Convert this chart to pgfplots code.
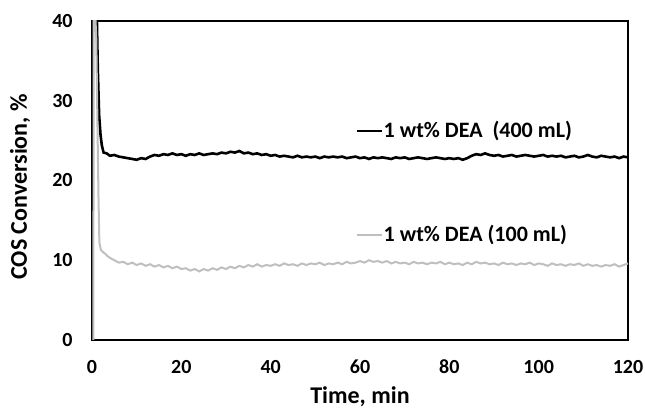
\documentclass[border=0pt]{standalone}
\usepackage{fontspec}
\setmainfont{Carlito}
\usepackage{pgfplots}
\pgfplotsset{compat=1.18}
\usepackage{pgfplotstable}
\usetikzlibrary{calc}
\definecolor{lightline}{HTML}{BFBFBF}

% 1 wt% DEA, 400 mL
\pgfplotstableread{
t y
1.0 45
1.1 40
1.3 34
1.6 28.2
1.9 25.8
2.2 24.4
2.6 23.5
3.3 23.4
4 23.1
5 23.2
6 23.0
7 22.9
8 22.8
9 22.7
10 22.6
11 22.8
12 22.7
13 23.0
14 23.2
15 23.1
16 23.3
17 23.2
18 23.4
19 23.2
20 23.3
21 23.1
22 23.3
23 23.2
24 23.4
25 23.2
26 23.3
27 23.4
28 23.3
29 23.5
30 23.4
31 23.6
32 23.5
33 23.7
34 23.4
35 23.5
36 23.3
37 23.4
38 23.2
39 23.3
40 23.1
41 23.2
42 23.0
43 23.1
44 23.0
45 22.9
46 23.1
47 22.9
48 23.0
49 22.9
50 23.0
51 22.8
52 23.0
53 22.9
54 23.0
55 22.9
56 23.0
57 22.8
58 22.9
59 23.0
60 22.8
61 22.9
62 22.7
63 22.9
64 22.8
65 22.9
66 22.8
67 22.7
68 22.9
69 22.8
70 22.9
71 22.7
72 22.8
73 22.9
74 22.8
75 22.7
76 22.8
77 22.9
78 22.8
79 22.7
80 22.8
81 22.7
82 22.8
83 22.6
84 22.8
85 23.1
86 23.3
87 23.2
88 23.4
89 23.2
90 23.1
91 23.2
92 23.0
93 23.1
94 23.2
95 23.0
96 23.1
97 23.2
98 23.1
99 23.0
100 23.1
101 23.2
102 23.0
103 23.1
104 23.0
105 23.1
106 22.9
107 23.0
108 23.1
109 22.9
110 23.0
111 23.2
112 23.0
113 22.9
114 23.1
115 23.0
116 22.9
117 23.0
118 22.8
119 23.0
120 22.9
}\deafour

% 1 wt% DEA, 100 mL
\pgfplotstableread{
t y
0.3 0
0.4 45
0.95 38
1.2 28
1.45 18
1.65 12.2
2 11.3
2.5 11.0
3 10.8
3.5 10.5
4 10.3
5 10.0
6 9.7
7 9.8
8 9.5
9 9.7
10 9.4
11 9.6
12 9.3
13 9.5
14 9.2
15 9.4
16 9.1
17 9.3
18 9.0
19 9.2
20 8.9
21 9.0
22 8.7
23 8.9
24 8.6
25 8.9
26 8.7
27 9.0
28 8.8
29 9.1
30 8.9
31 9.2
32 9.0
33 9.3
34 9.1
35 9.4
36 9.2
37 9.5
38 9.2
39 9.4
40 9.3
41 9.5
42 9.3
43 9.6
44 9.4
45 9.5
46 9.3
47 9.6
48 9.4
49 9.6
50 9.5
51 9.7
52 9.4
53 9.6
54 9.5
55 9.7
56 9.5
57 9.8
58 9.6
59 9.7
60 9.9
61 9.7
62 10.0
63 9.8
64 9.9
65 9.7
66 9.9
67 9.6
68 9.8
69 9.6
70 9.7
71 9.5
72 9.8
73 9.6
74 9.7
75 9.5
76 9.7
77 9.6
78 9.8
79 9.5
80 9.7
81 9.5
82 9.6
83 9.4
84 9.7
85 9.5
86 9.8
87 9.6
88 9.7
89 9.5
90 9.6
91 9.4
92 9.7
93 9.5
94 9.6
95 9.4
96 9.6
97 9.5
98 9.7
99 9.4
100 9.6
101 9.5
102 9.3
103 9.6
104 9.4
105 9.5
106 9.3
107 9.5
108 9.4
109 9.6
110 9.3
111 9.5
112 9.3
113 9.4
114 9.2
115 9.4
116 9.3
117 9.5
118 9.2
119 9.4
120 9.6
}\deaone

\begin{document}
\begin{tikzpicture}
\begin{axis}[
    width=268pt, height=159.5pt,
    scale only axis,
    xmin=0, xmax=120, ymin=0, ymax=40,
    xtick={0,20,...,120},
    ytick={0,10,...,40},
    major tick length=0pt,
    axis line style={black, line width=0.7pt},
    /pgf/number format/assume math mode=true,
    tick label style={font=\fontsize{10}{12}\selectfont\bfseries},
    xticklabel style={yshift=-6.5pt},
    yticklabel style={xshift=-6.2pt},
    xlabel={Time, min},
    ylabel={COS Conversion, \%},
    label style={font=\fontsize{12}{14}\selectfont\bfseries},
    xlabel style={at={(axis description cs:0.5,-0.1787)}, anchor=center},
    ylabel style={at={(axis description cs:-0.1343,0.48)}, anchor=center},
    clip=true,
]
  \addplot[black, line width=1.3pt] table[x=t, y=y] {\deafour};
  \addplot[lightline, line width=1pt] table[x=t, y=y] {\deaone};

  \draw[black, line width=1.2pt] (axis cs:59.3,26.2) -- (axis cs:64.9,26.2);
  \node[anchor=west, inner sep=0.5pt, font=\fontsize{11}{13}\selectfont\bfseries]
    at (axis cs:65.0,26.2) {1 wt\% DEA\ \ (400 mL)};
  \draw[lightline, line width=1pt] (axis cs:59.3,13.2) -- (axis cs:64.9,13.2);
  \node[anchor=west, inner sep=0.5pt, font=\fontsize{11}{13}\selectfont\bfseries]
    at (axis cs:65.0,13.2) {1 wt\% DEA (100 mL)};
\end{axis}
\pgfresetboundingbox
\path[use as bounding box] ($(current axis.south west)+(-46pt,-34.5pt)$)
  rectangle ($(current axis.north east)+(8.5pt,10.5pt)$);
\end{tikzpicture}
\end{document}
